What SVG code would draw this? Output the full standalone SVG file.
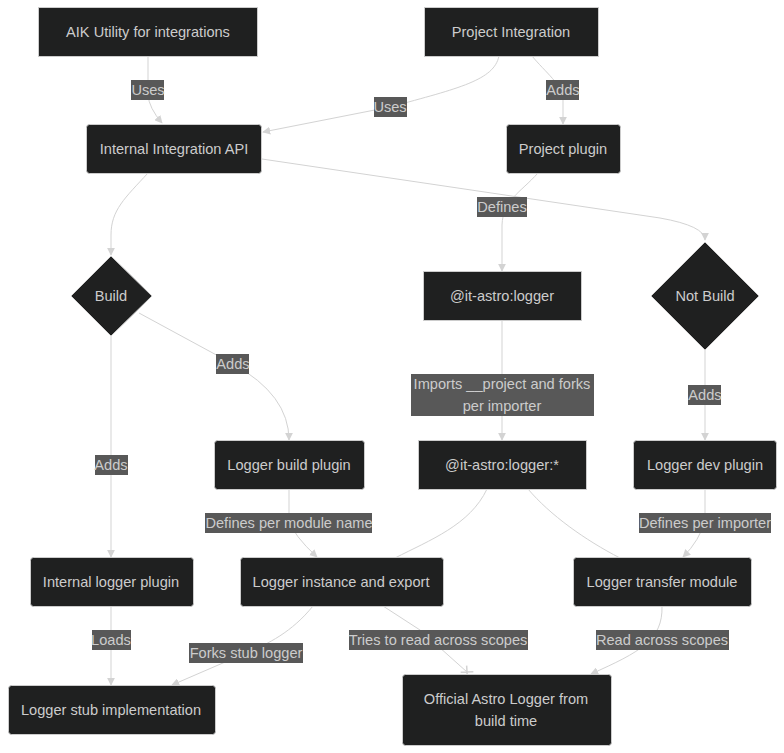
<svg xmlns="http://www.w3.org/2000/svg" width="784" height="753" viewBox="0 0 784 753">
<defs>
<style>
.n rect, .n polygon { fill:#1f2020; stroke:#cccccc; stroke-width:1; }
.t { font-family:"Liberation Sans", Arial, sans-serif; font-size:14.6px; fill:#cccccc; text-anchor:middle; dominant-baseline:central; }
.e { fill:none; stroke:#d3d3d3; stroke-width:1; }
.lb { fill:#585858; }
.lt { font-family:"Liberation Sans", Arial, sans-serif; font-size:14.6px; fill:#cccccc; text-anchor:middle; dominant-baseline:central; }
</style>
<marker id="arr" viewBox="0 0 10 10" refX="9" refY="5" markerWidth="8" markerHeight="8" orient="auto" markerUnits="userSpaceOnUse">
<path d="M0,0 L10,5 L0,10 z" fill="#d3d3d3"/>
</marker>
<marker id="cross" viewBox="0 0 11 11" refX="5.5" refY="5.5" markerWidth="11" markerHeight="11" orient="auto" markerUnits="userSpaceOnUse">
<path d="M1,1 L10,10 M1,10 L10,1" stroke="#d3d3d3" stroke-width="1.5" fill="none"/>
</marker>
</defs>
<rect width="784" height="753" fill="#ffffff"/>

<g id="edges">
<path class="e" d="M148,56 L148,95 Q149,108 162,123" marker-end="url(#arr)"/>
<path class="e" d="M499,56 C494,80 460,88 390,107 L263,132" marker-end="url(#arr)"/>
<path class="e" d="M532,56 C545,72 563,85 563,100 L563,124" marker-end="url(#arr)"/>
<path class="e" d="M262,159 L660,218 Q705,226 705,240" marker-end="url(#arr)"/>
<path class="e" d="M148,173 C125,198 111,210 111,235 L111,255" marker-end="url(#arr)"/>
<path class="e" d="M538,173 C520,193 503,200 502,225 L502,271" marker-end="url(#arr)"/>
<path class="e" d="M139,313 L233,364 Q289,395 289,440" marker-end="url(#arr)"/>
<path class="e" d="M111,336 L111,557" marker-end="url(#arr)"/>
<path class="e" d="M502,320 L502,440" marker-end="url(#arr)"/>
<path class="e" d="M705,350 L705,440" marker-end="url(#arr)"/>
<path class="e" d="M289,489 L289,520 Q293,535 317,557" marker-end="url(#arr)"/>
<path class="e" d="M487,489 C470,525 430,540 395,558"/>
<path class="e" d="M528,489 C550,515 585,540 620,558"/>
<path class="e" d="M705,489 L705,520 Q700,540 683,557" marker-end="url(#arr)"/>
<path class="e" d="M111,606 L111,685" marker-end="url(#arr)"/>
<path class="e" d="M313,606 C292,632 268,644 246,653 L172,685" marker-end="url(#arr)"/>
<path class="e" d="M383,606 L420,630 L467,672" marker-end="url(#cross)"/>
<path class="e" d="M662,606 C663,640 640,652 591,674" marker-end="url(#arr)"/>
</g>

<g id="edge-labels">
<rect class="lb" x="131" y="80" width="33" height="20"/><text class="lt" x="148" y="90">Uses</text>
<rect class="lb" x="374" y="97" width="33" height="20"/><text class="lt" x="390" y="107">Uses</text>
<rect class="lb" x="546" y="80" width="33" height="20"/><text class="lt" x="563" y="90">Adds</text>
<rect class="lb" x="477" y="197" width="50" height="20"/><text class="lt" x="502" y="207">Defines</text>
<rect class="lb" x="216" y="354" width="33" height="20"/><text class="lt" x="233" y="364">Adds</text>
<rect class="lb" x="411" y="374" width="183" height="42"/><text class="lt" x="502" y="384">Imports __project and forks</text><text class="lt" x="502" y="406">per importer</text>
<rect class="lb" x="688" y="385" width="33" height="20"/><text class="lt" x="705" y="395">Adds</text>
<rect class="lb" x="95" y="455" width="33" height="20"/><text class="lt" x="111" y="465">Adds</text>
<rect class="lb" x="205" y="513" width="167" height="20"/><text class="lt" x="289" y="523">Defines per module name</text>
<rect class="lb" x="639" y="513" width="132" height="20"/><text class="lt" x="705" y="523">Defines per importer</text>
<rect class="lb" x="92" y="630" width="39" height="20"/><text class="lt" x="111" y="640">Loads</text>
<rect class="lb" x="189" y="643" width="114" height="20"/><text class="lt" x="246" y="653">Forks stub logger</text>
<rect class="lb" x="349" y="630" width="179" height="20"/><text class="lt" x="438" y="640">Tries to read across scopes</text>
<rect class="lb" x="596" y="630" width="133" height="20"/><text class="lt" x="662" y="640">Read across scopes</text>
</g>

<g id="aik" class="n"><rect x="38.5" y="7.5" width="219" height="49"/><text class="t" x="148" y="32">AIK Utility for integrations</text></g>
<g id="projint" class="n"><rect x="424.5" y="7.5" width="174" height="49"/><text class="t" x="511" y="32">Project Integration</text></g>
<g id="intapi" class="n"><rect x="86.5" y="124.5" width="175" height="49" rx="3"/><text class="t" x="174" y="149">Internal Integration API</text></g>
<g id="projplugin" class="n"><rect x="506.5" y="124.5" width="114" height="49" rx="3"/><text class="t" x="563" y="149">Project plugin</text></g>
<g id="build" class="n"><polygon points="111,256 152,296 111,336 71,296"/><text class="t" x="111" y="296">Build</text></g>
<g id="itlogger" class="n"><rect x="423.5" y="271.5" width="158" height="49"/><text class="t" x="502" y="296">@it-astro:logger</text></g>
<g id="notbuild" class="n"><polygon points="705,242 759,296 705,350 651,296"/><text class="t" x="705" y="296">Not Build</text></g>
<g id="buildplugin" class="n"><rect x="214.5" y="440.5" width="150" height="49" rx="3"/><text class="t" x="289" y="465">Logger build plugin</text></g>
<g id="itloggerstar" class="n"><rect x="418.5" y="440.5" width="168" height="49"/><text class="t" x="502" y="465">@it-astro:logger:*</text></g>
<g id="devplugin" class="n"><rect x="633.5" y="440.5" width="143" height="49" rx="3"/><text class="t" x="705" y="465">Logger dev plugin</text></g>
<g id="intloggerplugin" class="n"><rect x="30.5" y="557.5" width="163" height="49" rx="3"/><text class="t" x="111" y="582">Internal logger plugin</text></g>
<g id="instance" class="n"><rect x="240.5" y="557.5" width="203" height="49" rx="3"/><text class="t" x="341" y="582">Logger instance and export</text></g>
<g id="transfer" class="n"><rect x="573.5" y="557.5" width="178" height="49" rx="3"/><text class="t" x="662" y="582">Logger transfer module</text></g>
<g id="stub" class="n"><rect x="8.5" y="685.5" width="207" height="49" rx="3"/><text class="t" x="111" y="710">Logger stub implementation</text></g>
<g id="official" class="n"><rect x="402.5" y="674.5" width="209" height="71" rx="3"/><text class="t" x="506" y="699">Official Astro Logger from</text><text class="t" x="506" y="721">build time</text></g>
</svg>
